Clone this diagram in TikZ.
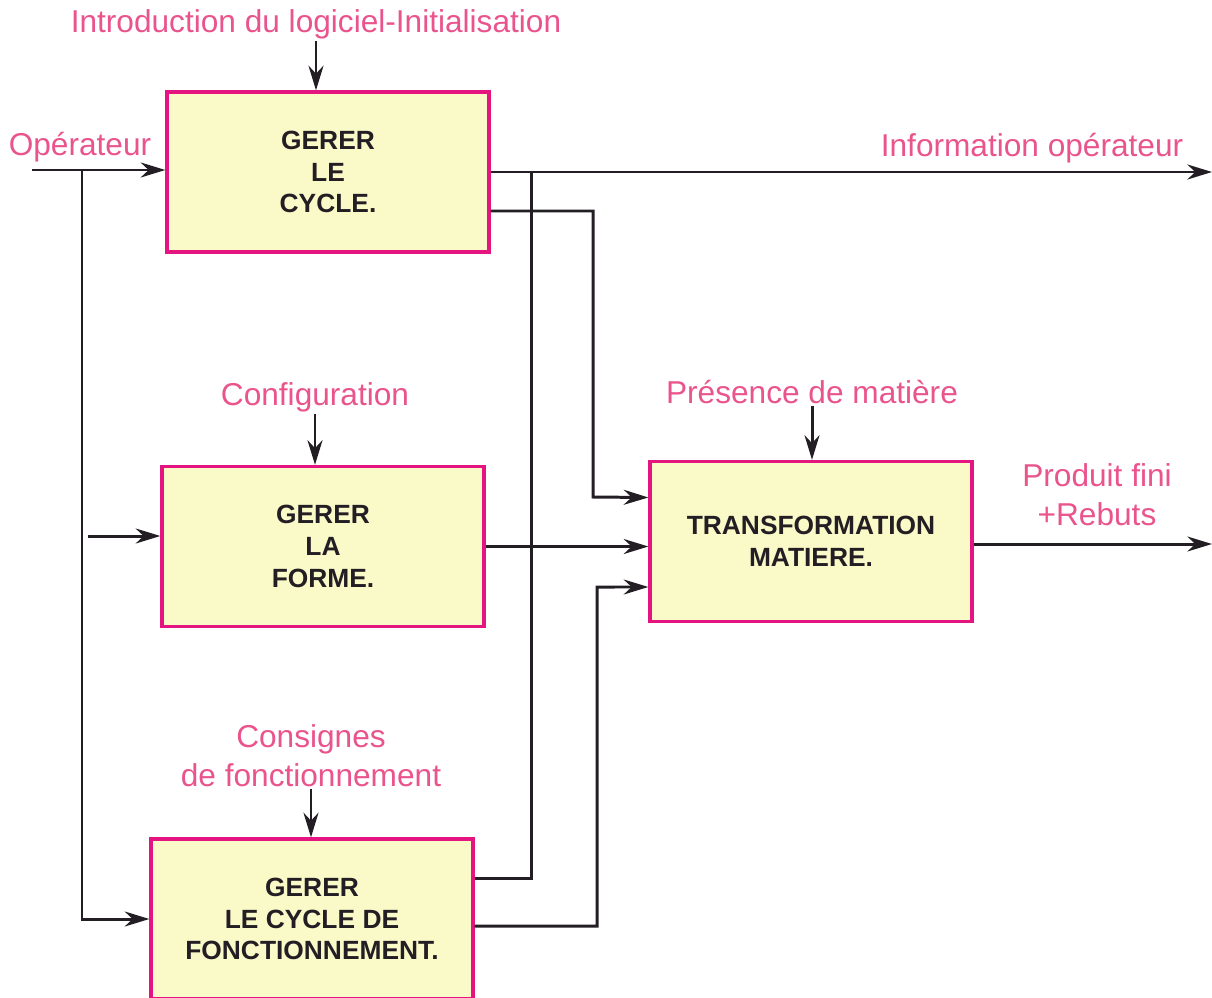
\documentclass[tikz,border=0pt]{standalone}
\usepackage{fontspec}
\setmainfont{Liberation Sans}
\usepackage{tikz}
\usetikzlibrary{arrows.meta}
\usetikzlibrary{positioning}
\definecolor{labelpink}{RGB}{234,84,140}
\definecolor{boxline}{RGB}{228,20,128}
\definecolor{boxfill}{RGB}{250,249,200}
\definecolor{wire}{RGB}{35,30,35}
\tikzset{block/.style={draw=boxline,line width=1.9pt,fill=boxfill,text=wire,
    minimum width=6.44cm,minimum height=3.2cm,align=center,
    font=\bfseries\fontsize{15}{18.1}\selectfont}}
\tikzset{tag/.style={text=labelpink,align=center,inner sep=1pt,
    font=\fontsize{18}{22}\selectfont}}
\tikzset{wireline/.style={draw=wire,line width=1.7pt}}

\begin{document}
\begin{tikzpicture}[x=0.02cm, y=-0.02cm, >={Stealth[length=14pt,width=8.5pt,inset=4.5pt]}]
\useasboundingbox (0,0) rectangle (1212,997);
\clip (0,0) rectangle (1212,997);

% Blocks
\node [block] (cycle) at (328,172) {GERER\\LE\\CYCLE.};
\node [block] (forme) at (323,546.5) {GERER\\LA\\FORME.};
\node [block] (fonct) at (312,919) {GERER\\LE CYCLE DE\\FONCTIONNEMENT.};
\node [block] (transfo) at (811,541.5) {TRANSFORMATION\\MATIERE.};

% Labels
\node [tag] (intro) at (316,24) {Introduction du logiciel-Initialisation};
\node [tag] (operateur) at (80,147) {Op\'erateur};
\node [tag] (infoop) at (1032,148) {Information op\'erateur};
\node [tag] (config) at (315,397) {Configuration};
\node [tag] (presence) at (812,392) {Pr\'esence de mati\`ere};
\node [tag] (consignes) at (311,756) {Consignes\\de fonctionnement};
\node [tag] (produit) at (1097,495) {Produit fini\\+Rebuts};

\coordinate (op) at (32,170);
\coordinate (b1) at (82,170);
\coordinate (fo) at (88,536);
\coordinate (info) at (1212,172);
\coordinate (prod) at (1212,544);

% Control inputs
\foreach \t/\b in {intro/cycle, config/forme, presence/transfo, consignes/fonct}
\draw [wireline,->] (\t.south) -- (\t.south |- \b.north);

% Operateur
\draw [wireline,->] (op) -- (cycle.west |- op);
\draw [wireline,->] (b1) |- (fonct.west);
\draw [wireline,->] (fo) -- (forme.west |- fo);

% Outputs
\draw [wireline,->] (cycle.east) -- (info);
\draw [wireline,->] ([yshift=-0.78cm]cycle.east) -| (593,497) -- ([yshift=0.88cm]transfo.west);
\draw [wireline] ([yshift=0.82cm]fonct.east) -| (531,172);
\draw [wireline,->] (forme.east) -- (forme.east -| transfo.west);
\draw [wireline,->] ([yshift=-0.14cm]fonct.east) -| (597,587) -- ([yshift=-0.91cm]transfo.west);
\draw [wireline,->] (transfo.east |- prod) -- (prod);
\end{tikzpicture}
\end{document}
